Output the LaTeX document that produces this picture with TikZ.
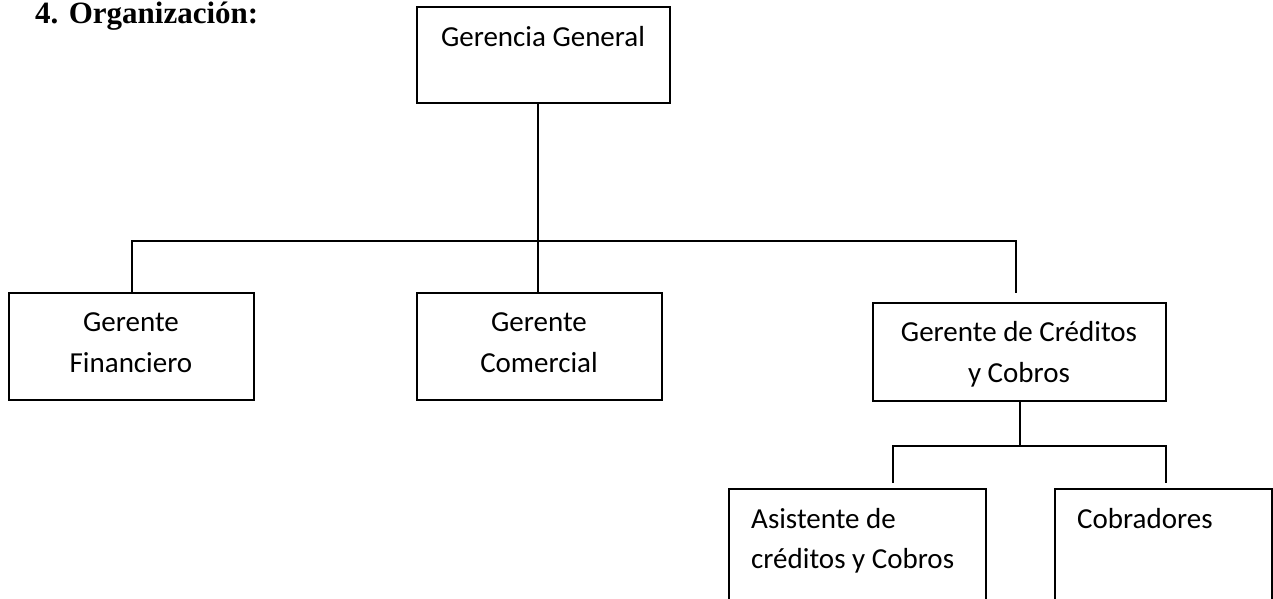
\documentclass[tikz,border=0pt]{standalone}
\usepackage{fontspec}
\setmainfont{Carlito}
\newfontfamily\headfont{Liberation Serif}
\begin{document}
\begin{tikzpicture}[x=1pt, y=-1pt,
  box/.style={draw, line width=2pt, rectangle, inner sep=0pt},
  link/.style={line width=2pt},
  lbl/.style={inner sep=0pt, font=\fontsize{29}{41}\selectfont},
  lblc/.style={lbl, anchor=base},
  lbll/.style={lbl, anchor=base west}]
  \useasboundingbox (0,0) rectangle (1273,598);

  % heading
  \node[inner sep=0pt, anchor=base west, font=\headfont\bfseries\fontsize{31}{36}\selectfont]
    (title) at (35,23) {4. Organización:};

  % boxes
  \node[box, minimum width=253pt, minimum height=96pt]  (gg)   at (543.5,55)   {};
  \node[box, minimum width=245pt, minimum height=107pt] (fin)  at (131.5,346.5) {};
  \node[box, minimum width=245pt, minimum height=107pt] (com)  at (539.5,346.5) {};
  \node[box, minimum width=293pt, minimum height=98pt]  (cred) at (1019.5,352)  {};
  \node[box, minimum width=257pt, minimum height=121pt] (asis) at (857.5,549.5) {};
  \node[box, minimum width=217pt, minimum height=121pt] (cob)  at (1163.5,549.5) {};

  % labels
  \node[lblc] (tgg)   at (543,46)   {Gerencia General};
  \node[lblc] (tfin1) at (131,331)  {Gerente};
  \node[lblc] (tfin2) at (131,372)  {Financiero};
  \node[lblc] (tcom1) at (539,331)  {Gerente};
  \node[lblc] (tcom2) at (539,372)  {Comercial};
  \node[lblc] (tcr1)  at (1019,341) {Gerente de Créditos};
  \node[lblc] (tcr2)  at (1019,382) {y Cobros};
  \node[lbll] (tas1)  at (751,528)  {Asistente de};
  \node[lbll] (tas2)  at (751,568)  {créditos y Cobros};
  \node[lbll] (tcob)  at (1077,528) {Cobradores};

  % junctions and free ends of the connectors
  \coordinate (trunk) at (538,241);
  \coordinate (busR)  at (1016,241);
  \coordinate (credT) at (1016,293);
  \coordinate (bus2)  at (1020,446);
  \coordinate (asT)   at (893,483);
  \coordinate (cobT)  at (1166,483);

  % connectors
  \draw[link] (gg.south -| trunk) -- (com.north -| trunk);
  \draw[link] (fin.north) |- (busR) -- (credT);
  \draw[link] (cred.south -| bus2) -- (bus2);
  \draw[link] (asT) |- (bus2) -| (cobT);
\end{tikzpicture}
\end{document}
